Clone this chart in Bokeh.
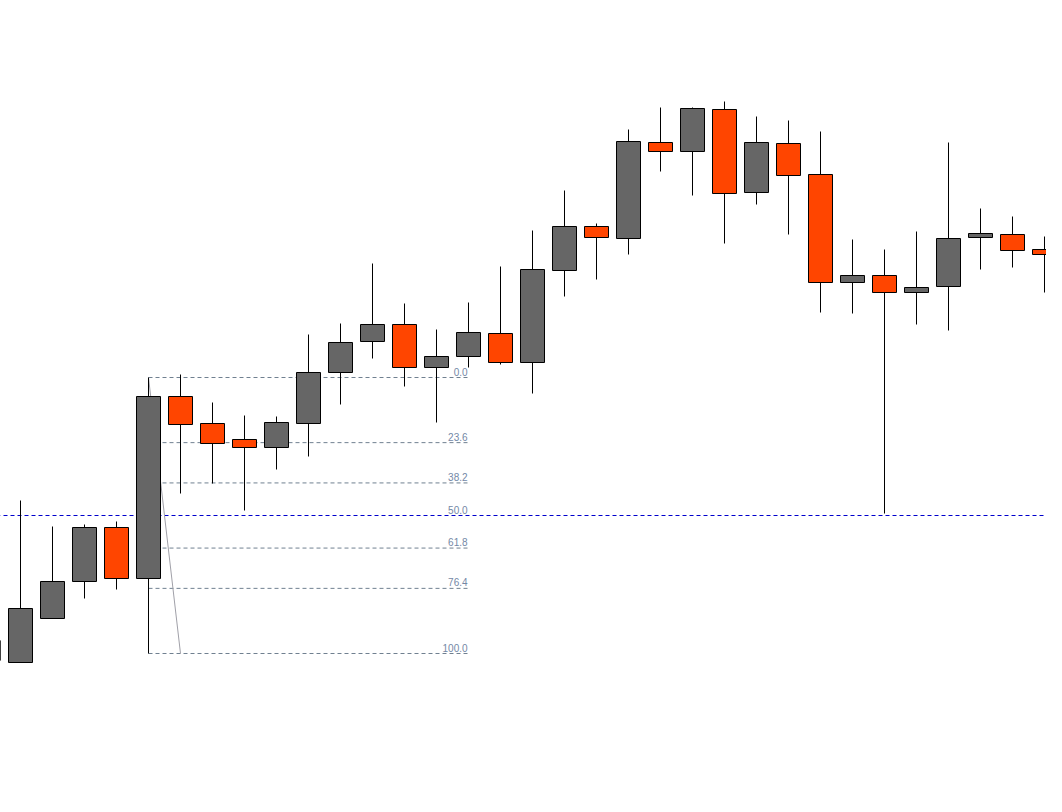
from bokeh.plotting import figure
from bokeh.models import Range1d, ColumnDataSource
from bokeh.core.properties import value
from bokeh.embed import file_html
from bokeh.resources import INLINE

# ---- data (OHLC, one bar per period) ----
idx = list(range(0, 34))
opens = [1.3000, 1.2998, 1.3042, 1.3079, 1.3133, 1.3082, 1.3264, 1.3237, 1.3221, 1.3213,
         1.3237, 1.3288, 1.3319, 1.3336, 1.3293, 1.3304, 1.3327, 1.3298, 1.3390, 1.3434,
         1.3422, 1.3518, 1.3509, 1.3551, 1.3468, 1.3517, 1.3486, 1.3378, 1.3385, 1.3368,
         1.3374, 1.3423, 1.3426, 1.3411]
highs = [1.3020, 1.3160, 1.3134, 1.3136, 1.3139, 1.3283, 1.3286, 1.3258, 1.3245, 1.3244,
         1.3326, 1.3337, 1.3397, 1.3357, 1.3331, 1.3358, 1.3394, 1.3430, 1.3470, 1.3437,
         1.3531, 1.3553, 1.3553, 1.3559, 1.3544, 1.3540, 1.3529, 1.3421, 1.3411, 1.3429,
         1.3518, 1.3452, 1.3444, 1.3424]
lows = [1.3000, 1.2998, 1.3042, 1.3062, 1.3071, 1.3007, 1.3167, 1.3177, 1.3150, 1.3191,
        1.3204, 1.3256, 1.3302, 1.3274, 1.3238, 1.3293, 1.3296, 1.3267, 1.3364, 1.3381,
        1.3406, 1.3489, 1.3465, 1.3417, 1.3456, 1.3426, 1.3348, 1.3347, 1.3147, 1.3336,
        1.3330, 1.3391, 1.3393, 1.3368]
closes = [1.3020, 1.3052, 1.3079, 1.3133, 1.3082, 1.3264, 1.3236, 1.3217, 1.3213, 1.3238,
          1.3288, 1.3318, 1.3336, 1.3293, 1.3304, 1.3328, 1.3298, 1.3391, 1.3434, 1.3423,
          1.3519, 1.3509, 1.3552, 1.3467, 1.3518, 1.3485, 1.3378, 1.3385, 1.3368, 1.3373,
          1.3422, 1.3427, 1.3410, 1.3406]

# Fibonacci retracement drawn on bar 5 (high -> low), extended to bar 15
fib_start = 5
fib_end = 15
fib_ratios = [0.0, 23.6, 38.2, 50.0, 61.8, 76.4, 100.0]
fib_labels = ["0.0", "23.6", "38.2", "50.0", "61.8", "76.4", "100.0"]

UP = "#666666"
DOWN = "#ff4500"
PIP = 0.0001  # one screen pixel in price units at this scale

fib_high = highs[fib_start]
fib_low = lows[fib_start]
fib_prices = [fib_high - r / 100.0 * (fib_high - fib_low) for r in fib_ratios]

p = figure(width=1046, height=796, output_backend="svg", toolbar_location=None,
           x_range=Range1d(0.375, 33.0625), y_range=Range1d(1.2864, 1.3660),
           min_border=0, min_border_left=0, min_border_right=0,
           min_border_top=0, min_border_bottom=0)
p.axis.visible = False
p.grid.visible = False
p.outline_line_color = None
p.background_fill_color = "white"
p.border_fill_color = "white"

# fib levels (except 50 which spans whole chart)
other = [i for i, r in enumerate(fib_ratios) if r != 50.0]
p.segment(x0=[fib_start] * len(other), x1=[fib_end] * len(other),
          y0=[fib_prices[i] for i in other], y1=[fib_prices[i] for i in other],
          line_color="#708090", line_width=1, line_dash="4 3")
mid = fib_ratios.index(50.0)
p.segment(x0=[-5], x1=[40], y0=[fib_prices[mid]], y1=[fib_prices[mid]],
          line_color="#0000cc", line_width=1, line_dash="4 3")
# trend line of the fib tool
p.segment(x0=[fib_start], x1=[fib_start + 1], y0=[fib_high], y1=[fib_low],
          line_color="#a0a0a8", line_width=1)

p.text(x=[fib_end - 0.03] * len(fib_labels), y=[v + 2 * PIP for v in fib_prices],
       text=fib_labels, text_align="right", text_baseline="bottom",
       text_font=value("Liberation Sans"), text_font_size="10px",
       text_color="#7388a6")

src = ColumnDataSource(dict(
    x=idx, o=opens, h=highs, l=lows, c=closes,
    top=[max(a, b) for a, b in zip(opens, closes)],
    bot=[min(a, b) for a, b in zip(opens, closes)],
    col=[UP if c >= o else DOWN for o, c in zip(opens, closes)],
))
p.segment(x0="x", x1="x", y0="h", y1="l", source=src, line_color="black", line_width=1)
p.vbar(x="x", top="top", bottom="bot", width=0.75, source=src,
       fill_color="col", line_color="black", line_width=1)

open("out.html", "w").write(file_html(p, INLINE))
